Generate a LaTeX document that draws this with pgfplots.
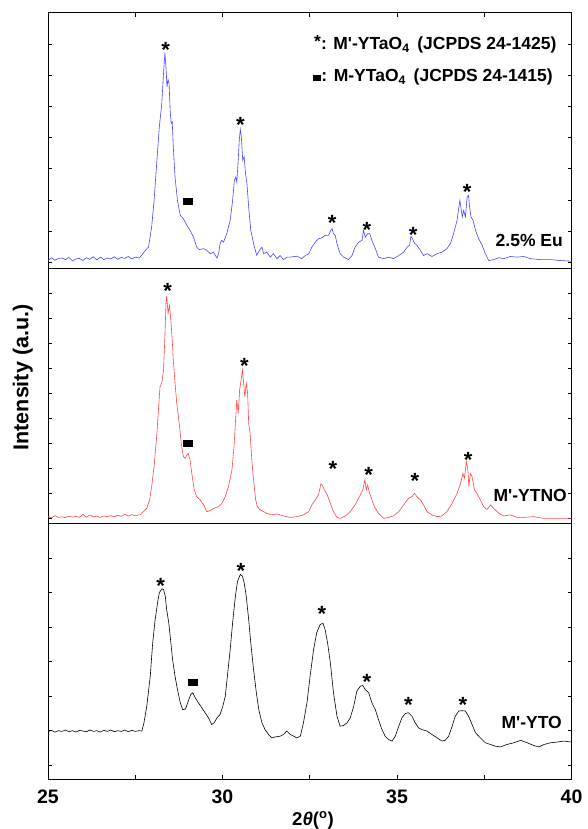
\documentclass[border=0pt]{standalone}
\usepackage{pgfplots}
\pgfplotsset{compat=1.18}
\usepackage{fontspec}
\setmainfont{Liberation Sans}
\newcommand\lab{\fontsize{17.5}{20}\selectfont\bfseries}
\newcommand\st{\fontsize{22}{24}\selectfont\bfseries}
\definecolor{cblue}{RGB}{70,70,255}
\definecolor{cred}{RGB}{255,70,70}
\begin{document}
\begin{tikzpicture}[x=1pt,y=1pt]
\path[use as bounding box] (-48pt,-50pt) rectangle (539pt,779pt);
\pgfplotsset{panel/.style={scale only axis, width=523.5pt, height=255.33pt,
  xmin=25, xmax=40, clip=false, anchor=south west,
  tick align=inside, major tick length=4pt, minor tick length=4pt,
  ytick pos=both, yticklabels={},
  tick style={black, line width=0.6pt},
  axis line style={line width=1pt},
  every axis plot/.append style={line width=0.6pt, mark=none},
  /pgf/number format/assume math mode=true}}
% ---------------- bottom: M'-YTO ----------------
\begin{axis}[panel, at={(0pt,0pt)}, ymin=-0.4, ymax=7, ytick={0,...,6},
  xtick={25,30,35,40}, minor xtick={27.5,32.5,37.5}, xtick pos=bottom,
  xticklabel style={font=\fontsize{19.5}{22}\selectfont\bfseries, anchor=base, yshift=-24.3pt}]
\addplot[black] coordinates {
(25.0,0.97)(25.1,1.01)(25.2,0.96)(25.3,1.00)(25.4,0.98)(25.5,1.02)(25.6,0.97)(25.7,1.00)(25.8,0.96)(25.9,1.01)
(26.0,0.99)(26.1,0.97)(26.2,1.02)(26.3,0.98)(26.4,1.00)(26.5,0.96)(26.6,1.01)(26.7,0.98)(26.8,1.02)(26.9,0.97)
(27.0,1.00)(27.1,0.98)(27.2,1.02)(27.3,0.97)(27.4,1.01)(27.5,0.98)(27.6,1.00)
(27.69,0.99)(27.75,1.23)(27.83,1.71)(27.93,2.58)(28.00,3.55)(28.07,4.22)(28.14,4.71)(28.19,5.00)(28.26,5.11)
(28.31,5.09)(28.36,4.90)(28.40,4.51)(28.46,4.13)(28.52,3.55)(28.57,3.06)(28.64,2.58)(28.71,2.19)(28.79,1.81)
(28.86,1.61)(28.94,1.63)(29.02,1.86)(29.09,2.05)(29.15,2.10)(29.22,1.95)(29.31,1.81)(29.41,1.66)(29.50,1.52)
(29.60,1.37)(29.69,1.18)(29.76,1.23)(29.84,1.37)(29.93,1.47)(30.01,1.71)(30.08,2.00)(30.14,2.58)(30.22,3.35)
(30.29,4.13)(30.37,4.90)(30.43,5.33)(30.51,5.53)(30.57,5.48)(30.62,5.29)(30.68,4.90)(30.75,4.22)(30.81,3.55)
(30.89,2.77)(30.97,2.10)(31.04,1.61)(31.13,1.23)(31.22,1.03)(31.32,0.89)(31.41,0.79)(31.51,0.82)(31.65,0.84)
(31.75,0.89)(31.84,0.99)
(31.94,0.89)(32.04,0.84)(32.13,0.79)(32.23,0.84)(32.32,1.23)(32.42,1.81)(32.51,2.58)(32.61,3.35)(32.70,3.84)
(32.80,4.08)(32.88,4.11)(32.94,3.93)(33.01,3.55)(33.09,2.97)(33.18,2.10)(33.28,1.42)(33.37,1.13)(33.47,1.15)
(33.57,1.23)(33.66,1.37)(33.76,1.71)(33.85,2.15)(33.95,2.29)(34.02,2.31)(34.09,2.19)(34.19,2.10)(34.28,1.81)
(34.38,1.61)(34.47,1.32)(34.57,1.03)(34.66,0.84)(34.76,0.74)(34.86,0.70)(34.95,0.84)(35.05,1.13)(35.14,1.37)
(35.24,1.50)(35.33,1.52)(35.43,1.42)(35.52,1.23)(35.62,1.08)(35.72,1.03)(35.86,0.99)(36.00,0.89)(36.15,0.79)
(36.29,0.70)(36.38,0.72)(36.48,0.84)(36.58,1.13)(36.67,1.42)(36.77,1.57)(36.86,1.58)(36.96,1.57)(37.05,1.42)
(37.15,1.18)(37.25,0.94)(37.39,0.79)(37.53,0.65)(37.68,0.60)(37.82,0.55)(37.96,0.53)(38.15,0.60)(38.35,0.65)
(38.54,0.72)(38.73,0.65)(38.92,0.57)(39.07,0.53)(39.21,0.60)(39.40,0.65)(39.59,0.67)(39.78,0.70)(40.0,0.67)};
\node[font=\st, yshift=-4.6pt] at (axis cs:28.23,5.33) {*};
\node at (axis cs:29.15,2.41) {\rule{10pt}{7pt}};
\node[font=\st, yshift=-4.6pt] at (axis cs:30.53,5.75) {*};
\node[font=\st, yshift=-4.6pt] at (axis cs:32.85,4.53) {*};
\node[font=\st, yshift=-4.6pt] at (axis cs:34.14,2.56) {*};
\node[font=\st, yshift=-4.6pt] at (axis cs:35.33,1.88) {*};
\node[font=\st, yshift=-4.6pt] at (axis cs:36.89,1.88) {*};
\end{axis}
% ---------------- middle: M'-YTNO ----------------
\begin{axis}[panel, at={(0pt,255.33pt)}, ymin=-0.2, ymax=10, ytick={0,...,9},
  xtick=\empty, minor xtick=\empty]
\addplot[cred] coordinates {
(25.0,0.08)(25.1,0.03)(25.2,0.12)(25.3,0.05)(25.4,0.07)(25.5,0.04)(25.6,0.10)(25.7,0.06)(25.8,0.09)(25.9,0.05)
(26.0,0.17)(26.1,0.06)(26.2,0.15)(26.3,0.07)(26.4,0.10)(26.5,0.05)(26.6,0.11)(26.7,0.08)(26.8,0.12)(26.9,0.07)
(27.0,0.14)(27.1,0.09)(27.2,0.18)(27.3,0.10)(27.4,0.16)(27.5,0.12)(27.6,0.15)
(27.64,0.15)(27.73,0.28)(27.83,0.41)(27.91,0.75)(27.97,1.28)(28.04,2.08)(28.12,3.41)(28.17,4.47)(28.21,5.27)
(28.26,5.41)(28.31,5.94)(28.35,7.27)(28.38,8.60)(28.40,8.89)(28.44,8.20)(28.48,8.53)(28.52,7.93)(28.56,7.13)
(28.59,6.34)(28.64,5.41)(28.69,4.61)(28.77,3.67)(28.83,2.88)(28.88,2.48)(28.93,2.41)(28.98,2.54)(29.02,2.61)
(29.07,2.34)(29.12,1.81)(29.19,1.15)(29.26,0.88)(29.36,0.75)(29.46,0.55)(29.55,0.28)(29.65,0.32)(29.74,0.41)
(29.89,0.48)(29.98,0.61)(30.08,0.88)(30.17,1.28)(30.27,1.94)(30.33,2.88)(30.38,4.07)(30.41,4.74)(30.45,4.20)
(30.49,5.14)(30.52,5.41)(30.57,5.94)(30.61,5.34)(30.64,4.87)(30.68,5.41)(30.72,5.01)(30.75,3.81)(30.79,3.41)
(30.84,2.34)(30.89,1.55)(30.95,0.75)(31.00,0.48)(31.08,0.35)(31.18,0.28)(31.27,0.21)(31.41,0.15)(31.56,0.19)
(31.75,0.11)
(31.94,0.05)(32.13,0.08)(32.32,0.15)(32.47,0.28)(32.56,0.55)(32.66,0.75)(32.75,0.95)(32.82,1.39)(32.87,1.31)
(32.92,1.15)(33.00,0.95)(33.09,0.61)(33.18,0.28)(33.28,0.05)(33.37,0.01)(33.52,0.11)(33.66,0.28)(33.80,0.55)
(33.95,0.95)(34.02,1.15)(34.08,1.55)(34.12,1.15)(34.16,1.35)(34.20,1.08)(34.25,0.88)(34.35,0.48)(34.47,0.21)
(34.62,0.01)(34.76,0.05)(34.90,0.11)(35.05,0.28)(35.19,0.55)(35.33,0.81)(35.43,0.88)(35.50,1.01)(35.57,0.88)
(35.67,0.75)(35.76,0.55)(35.86,0.28)(36.00,0.15)(36.15,0.08)(36.29,0.11)(36.43,0.28)(36.58,0.61)(36.72,1.01)
(36.82,1.41)(36.89,1.81)(36.93,1.61)(36.99,2.28)(37.03,1.94)(37.06,1.28)(37.10,1.81)(37.15,1.68)(37.22,1.15)
(37.29,1.01)(37.39,0.75)(37.48,0.48)(37.58,0.37)(37.68,0.55)(37.77,0.41)(37.92,0.21)(38.06,0.11)(38.25,0.15)
(38.44,0.05)(38.63,0.05)(38.92,0.08)(39.21,0.01)(39.59,0.01)(40.0,0.01)};
\node[font=\st, yshift=-4.6pt] at (axis cs:28.43,9.27) {*};
\node at (axis cs:29.02,3.01) {\rule{10pt}{7pt}};
\node[font=\st, yshift=-4.6pt] at (axis cs:30.63,6.30) {*};
\node[font=\st, yshift=-4.6pt] at (axis cs:33.16,2.18) {*};
\node[font=\st, yshift=-4.6pt] at (axis cs:34.19,1.92) {*};
\node[font=\st, yshift=-4.6pt] at (axis cs:35.51,1.68) {*};
\node[font=\st, yshift=-4.6pt] at (axis cs:37.04,2.54) {*};
\end{axis}
% ---------------- top: 2.5% Eu ----------------
\begin{axis}[panel, at={(0pt,510.67pt)}, ymin=-0.2, ymax=8, ytick={0,...,7},
  xtick={25,30,35,40}, minor xtick={27.5,32.5,37.5}, xtick pos=top, xticklabels={}]
\addplot[cblue] coordinates {
(25.0,0.05)(25.1,0.14)(25.2,0.06)(25.3,0.12)(25.4,0.13)(25.5,0.08)(25.6,0.15)(25.7,0.04)(25.8,0.10)(25.9,0.12)
(26.0,0.05)(26.1,0.14)(26.2,0.09)(26.3,0.17)(26.4,0.07)(26.5,0.16)(26.6,0.08)(26.7,0.13)(26.8,0.10)(26.9,0.17)
(27.0,0.09)(27.1,0.15)(27.2,0.12)(27.3,0.18)(27.4,0.10)(27.5,0.16)(27.6,0.13)
(27.64,0.16)(27.83,0.43)(27.88,0.48)(27.97,1.13)(28.04,1.98)(28.12,3.27)(28.19,4.34)(28.26,5.09)(28.31,6.06)
(28.35,6.72)(28.38,6.27)(28.41,5.63)(28.44,5.86)(28.47,5.73)(28.50,4.87)(28.53,4.45)(28.56,4.50)(28.59,3.70)
(28.64,2.73)(28.71,1.98)(28.79,1.50)(28.88,1.39)(28.98,1.18)(29.07,1.02)(29.17,0.80)(29.26,0.48)(29.33,0.40)
(29.46,0.43)(29.55,0.38)(29.65,0.27)(29.74,0.32)(29.84,0.13)(29.89,0.27)(29.93,0.59)(29.98,0.70)(30.03,0.64)
(30.12,0.91)(30.22,1.34)(30.29,1.98)(30.34,2.63)(30.38,2.73)(30.41,2.57)(30.45,3.27)(30.48,3.91)(30.51,4.26)
(30.54,4.02)(30.58,3.27)(30.62,3.38)(30.66,2.84)(30.70,2.52)(30.75,1.77)(30.81,1.02)(30.89,0.59)(30.98,0.22)
(31.06,0.38)(31.13,0.48)(31.18,0.27)(31.27,0.32)(31.37,0.16)(31.46,0.27)(31.56,0.11)(31.65,0.21)(31.75,0.08)
(31.85,0.16)
(31.94,0.16)(32.13,0.19)(32.27,0.11)(32.37,0.21)(32.47,0.27)(32.56,0.48)(32.66,0.64)(32.75,0.75)(32.85,0.78)
(32.94,0.86)(33.04,0.86)(33.11,1.04)(33.14,1.07)(33.18,0.91)(33.23,0.86)(33.28,0.59)(33.37,0.27)(33.47,0.16)
(33.61,0.08)(33.71,0.21)(33.80,0.48)(33.90,0.64)(34.00,0.70)(34.04,1.02)(34.09,0.80)(34.16,0.91)(34.22,0.91)
(34.28,0.70)(34.38,0.43)(34.47,0.16)(34.62,0.11)(34.76,0.16)(34.90,0.11)(35.05,0.21)(35.19,0.32)(35.29,0.48)
(35.36,0.54)(35.40,0.83)(35.44,0.75)(35.50,0.61)(35.57,0.54)(35.67,0.38)(35.76,0.21)(35.86,0.27)(36.00,0.18)
(36.15,0.27)(36.29,0.32)(36.43,0.43)(36.53,0.59)(36.62,0.91)(36.72,1.34)(36.80,1.98)(36.83,1.77)(36.87,1.45)
(36.91,1.66)(36.96,1.45)(37.01,2.09)(37.05,2.14)(37.08,1.77)(37.12,1.45)(37.18,1.34)(37.25,1.02)(37.34,0.75)
(37.44,0.54)(37.53,0.27)(37.63,0.05)(37.77,0.08)(37.92,0.14)(38.06,0.11)(38.25,0.18)(38.44,0.16)(38.63,0.18)
(38.82,0.11)(39.11,0.08)(39.40,0.08)(39.68,0.05)(40.0,0.03)};
\node[font=\st, yshift=-4.6pt] at (axis cs:28.37,6.97) {*};
\node at (axis cs:29.02,1.93) {\rule{10pt}{7pt}};
\node[font=\st, yshift=-4.6pt] at (axis cs:30.51,4.56) {*};
\node[font=\st, yshift=-4.6pt] at (axis cs:33.14,1.40) {*};
\node[font=\st, yshift=-4.6pt] at (axis cs:34.14,1.18) {*};
\node[font=\st, yshift=-4.6pt] at (axis cs:35.46,1.02) {*};
\node[font=\st, yshift=-4.6pt] at (axis cs:37.01,2.41) {*};
\end{axis}
% ---------------- texts ----------------
\node[font=\lab, anchor=base east, inner sep=0pt] at (508.7pt,729pt) {\raisebox{2pt}{*}: M\textquotesingle-YTaO\textsubscript{4}\, (JCPDS 24-1425)};
\node[font=\lab, anchor=base east, inner sep=0pt] at (505pt,697.3pt) {\raisebox{0.5pt}{\rule{8pt}{6pt}}: M-YTaO\textsubscript{4}\, (JCPDS 24-1415)};
\node[font=\lab, anchor=base east, inner sep=0pt] at (515pt,532.3pt) {2.5\% Eu};
\node[font=\lab, anchor=base east, inner sep=0pt] at (519pt,277.3pt) {M\textquotesingle-YTNO};
\node[font=\lab, anchor=base east, inner sep=0pt] at (514pt,50.7pt) {M\textquotesingle-YTO};
\node[font=\fontsize{21.5}{24}\selectfont\bfseries, rotate=90, anchor=base, inner sep=0pt] at (-19.7pt,401.5pt) {Intensity (a.u.)};
\node[font=\fontsize{18.6}{22}\selectfont\bfseries, anchor=base, inner sep=0pt] at (265pt,-46pt) {2\textit{θ}(\textsuperscript{o})};
\end{tikzpicture}
\end{document}
